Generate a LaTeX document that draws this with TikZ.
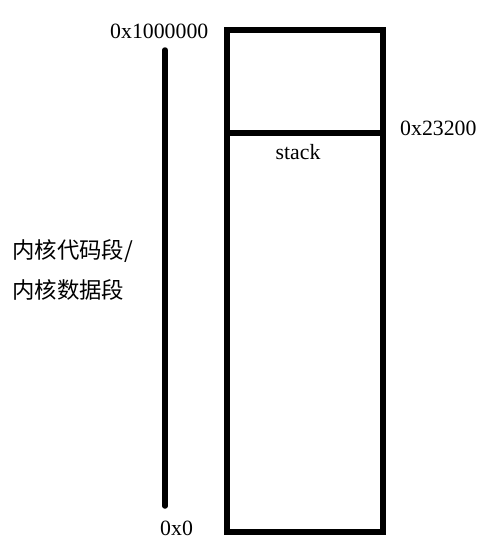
\documentclass[tikz,border=0pt]{standalone}
\usepackage{fontspec}
\setmainfont{Liberation Serif}
\newfontfamily\cjk{Noto Sans CJK SC}
\begin{document}
\begin{tikzpicture}[x=1pt,y=-1pt,
  thick line/.style={line width=5.5pt},
  addr/.style={inner sep=0pt,anchor=base west,font=\fontsize{21.8}{24}\selectfont},
  seglabel/.style={inner sep=0pt,anchor=base west,font=\cjk\fontsize{22.4}{26}\selectfont}]
  \useasboundingbox (0,0) rectangle (486,550);
  % memory block
  \node[draw,thick line,minimum width=156pt,minimum height=502pt,inner sep=0pt,outer sep=0pt]
    (mem) at (305,281) {};
  \coordinate (divl) at (227,133);
  \coordinate (divr) at (383,133);
  \draw[thick line] (divl) -- (divr);
  % address axis
  \coordinate (axtop) at (165,50);
  \coordinate (axbot) at (165,506);
  \draw[thick line,line cap=round] (axtop) -- (axbot);
  % labels
  \node[addr] (hi) at (110,38) {0x1000000};
  \node[addr] (lo) at (160,535) {0x0};
  \node[addr] (sp) at (400,135) {0x23200};
  \node[addr,anchor=base] (stk) at (298,159) {stack};
  \node[seglabel] (seg1) at (12,258) {内核代码段/};
  \node[seglabel] (seg2) at (12,298) {内核数据段};
\end{tikzpicture}
\end{document}
